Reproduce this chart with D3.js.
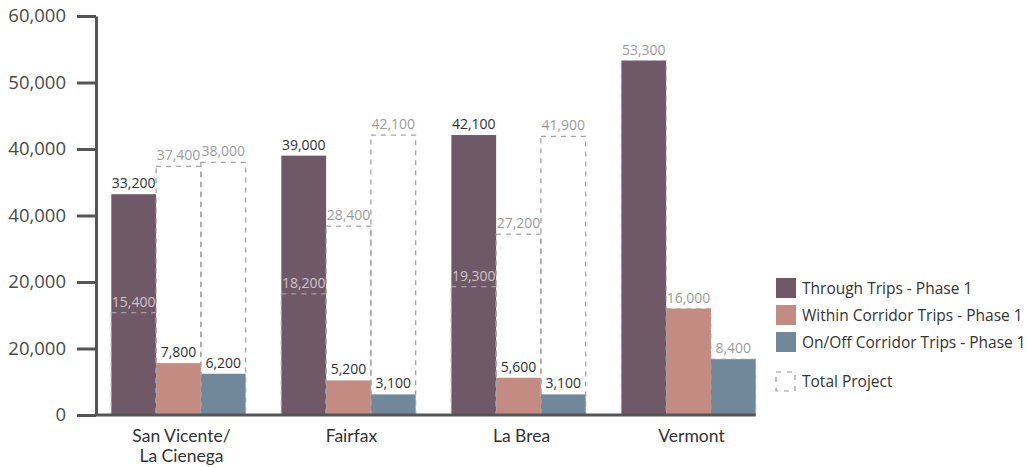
<!DOCTYPE html>
<html>
<head>
<meta charset="utf-8">
<script src="https://cdn.jsdelivr.net/npm/d3@7"></script>
<style>
  html, body { margin: 0; padding: 0; background: #fff; }
  svg { display: block; font-family: "Open Sans", "Lato", sans-serif; }
</style>
</head>
<body>
<svg id="chart" width="1031" height="467"></svg>
<script>
// Corridor trip volumes by station area
const categoryLines = [["San Vicente/", "La Cienega"], ["Fairfax"], ["La Brea"], ["Vermont"]];
const seriesNames = ["Through Trips - Phase 1", "Within Corridor Trips - Phase 1", "On/Off Corridor Trips - Phase 1"];
const totalName = "Total Project";

const throughPhase1 = [33200, 39000, 42100, 53300];
const withinPhase1  = [7800, 5200, 5600, 16000];
const onOffPhase1   = [6200, 3100, 3100, 8400];

const throughTotal = [15400, 18200, 19300, 53300];
const withinTotal  = [37400, 28400, 27200, 16000];
const onOffTotal   = [38000, 42100, 41900, 8400];

const yTickValues = [0, 10000, 20000, 30000, 40000, 50000, 60000];
const yTickLabels = ["0", "20,000", "20,000", "40,000", "40,000", "50,000", "60,000"];

const colors = ["#705967", "#c38b81", "#71889a"];

const phase1 = [throughPhase1, withinPhase1, onOffPhase1];
const totals = [throughTotal, withinTotal, onOffTotal];

const svg = d3.select("#chart");
const fmt = d3.format(",");

const x0 = d3.scaleBand()
  .domain(d3.range(categoryLines.length))
  .range([96, 771])
  .paddingInner(0.21)
  .paddingOuter(0.09);

const x1 = d3.scaleBand()
  .domain(d3.range(seriesNames.length))
  .range([0, x0.bandwidth()]);

const y = d3.scaleLinear().domain([0, 60000]).range([415, 16]);

// flat record list: one per bar slot
const cells = [];
categoryLines.forEach((_, g) => {
  seriesNames.forEach((_, s) => {
    cells.push({ g, s, value: phase1[s][g], total: totals[s][g] });
  });
});
const xPos = d => x0(d.g) + x1(d.s);

// phase 1 bars
svg.append("g").selectAll("rect")
  .data(cells)
  .join("rect")
  .attr("x", xPos)
  .attr("y", d => y(d.value))
  .attr("width", x1.bandwidth())
  .attr("height", d => y(0) - y(d.value))
  .attr("fill", d => colors[d.s]);

// total project outlines
svg.append("g").selectAll("rect")
  .data(cells)
  .join("rect")
  .attr("x", xPos)
  .attr("y", d => y(d.total))
  .attr("width", x1.bandwidth())
  .attr("height", d => y(0) - y(d.total))
  .attr("fill", "none")
  .attr("stroke", d => d.total === d.value ? "#9a9a9a" : "#a3a3a3")
  .attr("stroke-opacity", d => d.total === d.value ? 0.55 : 1)
  .attr("stroke-width", 1.3)
  .attr("stroke-dasharray", "5,5");

// phase 1 value labels
svg.append("g").selectAll("text")
  .data(cells.filter(d => d.total !== d.value))
  .join("text")
  .attr("x", d => xPos(d) + x1.bandwidth() / 2)
  .attr("y", d => y(d.value) - 6)
  .attr("text-anchor", "middle")
  .attr("font-size", 14)
  .attr("fill", "#2f2f2f")
  .text(d => fmt(d.value));

// total project labels
svg.append("g").selectAll("text")
  .data(cells)
  .join("text")
  .attr("x", d => xPos(d) + x1.bandwidth() / 2)
  .attr("y", d => y(d.total) - 6)
  .attr("text-anchor", "middle")
  .attr("font-size", 14)
  .attr("fill", d => d.total < d.value ? "#cdc3ca" : "#9b9b9b")
  .text(d => fmt(d.total));

// y axis
const yAxis = svg.append("g")
  .attr("transform", "translate(96,0)")
  .call(d3.axisLeft(y)
    .tickValues(yTickValues)
    .tickFormat((d, i) => yTickLabels[i])
    .tickSizeInner(19)
    .tickSizeOuter(0)
    .tickPadding(11));
yAxis.select(".domain").attr("stroke", "#555").attr("stroke-width", 3);
yAxis.selectAll(".tick line").attr("stroke", "#555").attr("stroke-width", 3);
yAxis.selectAll(".tick text")
  .attr("font-size", 18.5)
  .attr("font-family", "'Open Sans', sans-serif")
  .attr("fill", "#4a4a4a");

// baseline
svg.append("line")
  .attr("x1", 96).attr("x2", x0(categoryLines.length - 1) + x0.bandwidth())
  .attr("y1", y(0)).attr("y2", y(0))
  .attr("stroke", "#555").attr("stroke-width", 3);

// category labels, one text per line
categoryLines.forEach((lines, i) => {
  lines.forEach((line, k) => {
    svg.append("text")
      .attr("x", x0(i) + x0.bandwidth() / 2 + 3)
      .attr("y", 442 + k * 20)
      .attr("text-anchor", "middle")
      .attr("font-family", "Lato, 'Open Sans', sans-serif")
      .attr("font-size", 17.5)
      .attr("fill", "#333")
      .text(line);
  });
});

// legend
const legend = svg.append("g").attr("transform", "translate(776,278)");
seriesNames.forEach((name, i) => {
  const row = legend.append("g").attr("transform", `translate(0,${i * 27})`);
  row.append("rect").attr("width", 20).attr("height", 20).attr("fill", colors[i]);
  row.append("text").attr("x", 26).attr("y", 16)
    .attr("font-size", 15.5).attr("fill", "#333").text(name);
});
const tot = legend.append("g").attr("transform", "translate(0,94)");
tot.append("rect").attr("width", 19).attr("height", 19)
  .attr("fill", "none").attr("stroke", "#999").attr("stroke-width", 1.2)
  .attr("stroke-dasharray", "5,6");
tot.append("text").attr("x", 26).attr("y", 15)
  .attr("font-size", 15.5).attr("fill", "#333").text(totalName);
</script>
</body>
</html>
